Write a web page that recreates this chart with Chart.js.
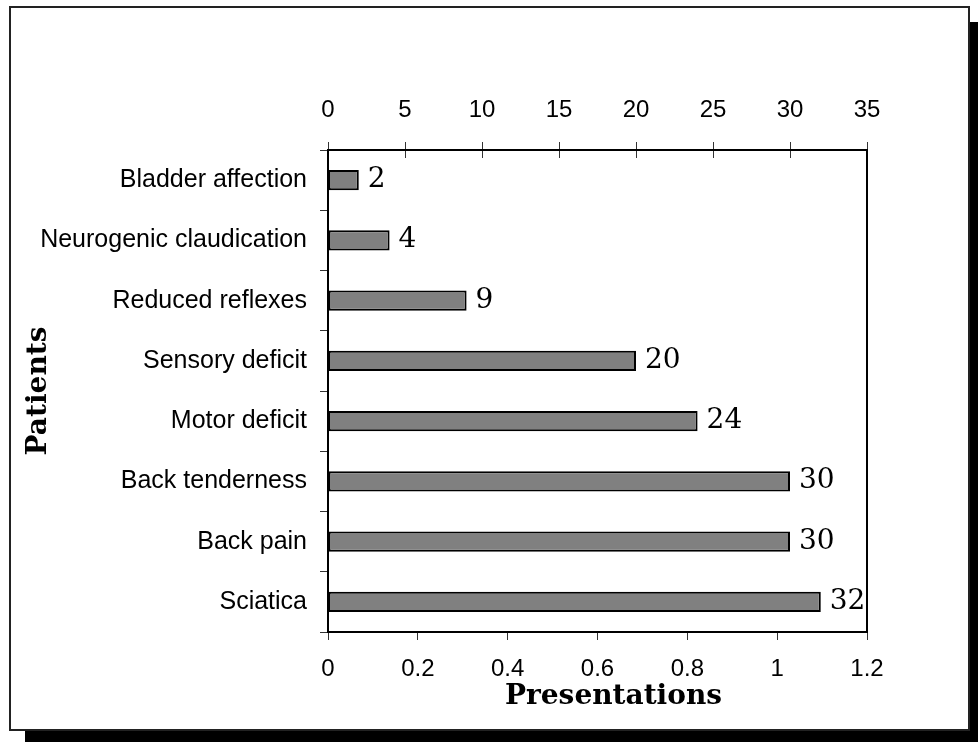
<!DOCTYPE html>
<html><head><meta charset="utf-8">
<script src="https://cdn.jsdelivr.net/npm/chart.js@4.4.0/dist/chart.umd.min.js"></script>
<style>
html,body{margin:0;padding:0;background:#fff;width:978px;height:742px;overflow:hidden;}
#frame{position:absolute;left:9px;top:6px;width:961px;height:725px;box-sizing:border-box;border:2px solid #222;box-shadow:16px 16px 0 #000;background:#fff;}
#c{position:absolute;left:0;top:0;}
</style></head><body>
<div id="frame"></div>
<canvas id="c" width="978" height="742"></canvas>
<script>
const categories = ['Bladder affection','Neurogenic claudication','Reduced reflexes','Sensory deficit','Motor deficit','Back tenderness','Back pain','Sciatica'];
const patients = [2,4,9,20,24,30,30,32];
const topTickValues = [0,5,10,15,20,25,30,35];
const bottomTickValues = [0,0.2,0.4,0.6,0.8,1,1.2];
const bottomTickLabels = ['0','0.2','0.4','0.6','0.8','1','1.2'];
const xTitle = 'Presentations';
const yTitle = 'Patients';

const tickFont = {family:'"Liberation Sans", Arial, sans-serif', size:24};
const catFont = {family:'"Liberation Sans", Arial, sans-serif', size:25};

const decor = {
  id:'decor',
  afterDatasetsDraw(chart){
    const ctx = chart.ctx;
    const meta = chart.getDatasetMeta(0);
    ctx.save();
    ctx.font = '28px "DejaVu Serif", serif';
    ctx.fillStyle = '#000';
    ctx.textAlign = 'left';
    ctx.textBaseline = 'alphabetic';
    meta.data.forEach((bar,i)=>{
      ctx.fillText(String(patients[i]), bar.x + 9, bar.y + 7);
    });
    ctx.restore();
  },
  afterDraw(chart){
    const ctx = chart.ctx;
    const a = chart.chartArea;
    ctx.save();
    const s = chart.scales.x2;
    ctx.strokeStyle = '#333';
    ctx.lineWidth = 1;
    topTickValues.forEach(v=>{
      const x = Math.round(s.getPixelForValue(v)) + 0.5;
      ctx.beginPath(); ctx.moveTo(x, a.top); ctx.lineTo(x, a.top + 8); ctx.stroke();
    });
    ctx.strokeStyle = '#000';
    ctx.lineWidth = 2;
    ctx.strokeRect(a.left, a.top, a.right - a.left, a.bottom - a.top);
    ctx.fillStyle = '#000';
    ctx.font = 'bold 28px "DejaVu Serif", serif';
    ctx.textAlign = 'center';
    ctx.textBaseline = 'middle';
    ctx.fillText(xTitle, (a.left + a.right)/2 + 16, 697);
    ctx.translate(39, (a.top + a.bottom)/2);
    ctx.rotate(-Math.PI/2);
    ctx.fillText(yTitle, 0, 0);
    ctx.restore();
  }
};

new Chart(document.getElementById('c'), {
  type:'bar',
  data:{
    labels: categories,
    datasets:[{
      data: patients,
      xAxisID:'x2',
      yAxisID:'y',
      backgroundColor:'#808080',
      borderColor:'#000',
      borderWidth:2,
      borderSkipped:false,
      categoryPercentage:1,
      barPercentage:0.34
    }]
  },
  options:{
    indexAxis:'y',
    responsive:false,
    animation:false,
    devicePixelRatio:1,
    layout:{padding:{left:0,top:0,right:111,bottom:0}},
    plugins:{legend:{display:false},tooltip:{enabled:false}},
    scales:{
      x2:{
        type:'linear', position:'top', min:0, max:35,
        afterBuildTicks(s){ s.ticks = topTickValues.map(v=>({value:v})); },
        afterFit(s){ s.height = 150; },
        grid:{display:true, drawOnChartArea:false, drawTicks:true, tickLength:8, color:'#333', lineWidth:1},
        border:{display:false},
        ticks:{font:tickFont, color:'#000', padding:17, maxRotation:0, callback:(v)=>String(v)}
      },
      x:{
        type:'linear', position:'bottom', min:0, max:1.2,
        afterBuildTicks(s){ s.ticks = bottomTickValues.map(v=>({value:v})); },
        afterFit(s){ s.height = 110; },
        grid:{display:true, drawOnChartArea:false, drawTicks:true, tickLength:8, color:'#333', lineWidth:1},
        border:{display:false},
        ticks:{font:tickFont, color:'#000', padding:15, maxRotation:0, callback:(v,i)=>bottomTickLabels[i]}
      },
      y:{
        type:'category', position:'left',
        afterFit(s){ s.width = 328; },
        grid:{display:true, drawOnChartArea:false, drawTicks:true, tickLength:8, color:'#333', lineWidth:1, offset:true},
        border:{display:false},
        ticks:{font:catFont, color:'#000', padding:13}
      }
    }
  },
  plugins:[decor]
});
</script>
</body></html>
